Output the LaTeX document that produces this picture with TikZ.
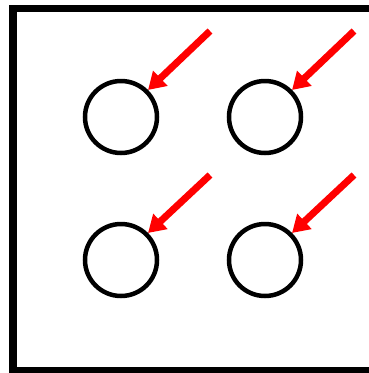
\documentclass[tikz,border=0pt]{standalone}
\usetikzlibrary{arrows.meta}
\begin{document}
\begin{tikzpicture}[x=1pt,y=-1pt,
  frame/.style={draw=black,line width=7.5pt},
  ring/.style={circle,draw=black,line width=4.5pt,minimum size=72pt,inner sep=0pt},
  pointer/.style={draw=red,line width=7pt,-{Triangle[length=17pt,width=20pt]}}]
\useasboundingbox (0,0) rectangle (369,373);
\draw[frame] (13,8.5) rectangle (376,371);
\node[ring] (c1) at (121,117) {};
\node[ring] (c2) at (265,117) {};
\node[ring] (c3) at (121,260) {};
\node[ring] (c4) at (265,260) {};
\coordinate (t1) at (210,31);
\coordinate (t2) at (354,31);
\coordinate (t3) at (210,175);
\coordinate (t4) at (354,175);
\draw[pointer] (t1) -- (c1.45);
\draw[pointer] (t2) -- (c2.45);
\draw[pointer] (t3) -- (c3.45);
\draw[pointer] (t4) -- (c4.45);
\end{tikzpicture}
\end{document}
